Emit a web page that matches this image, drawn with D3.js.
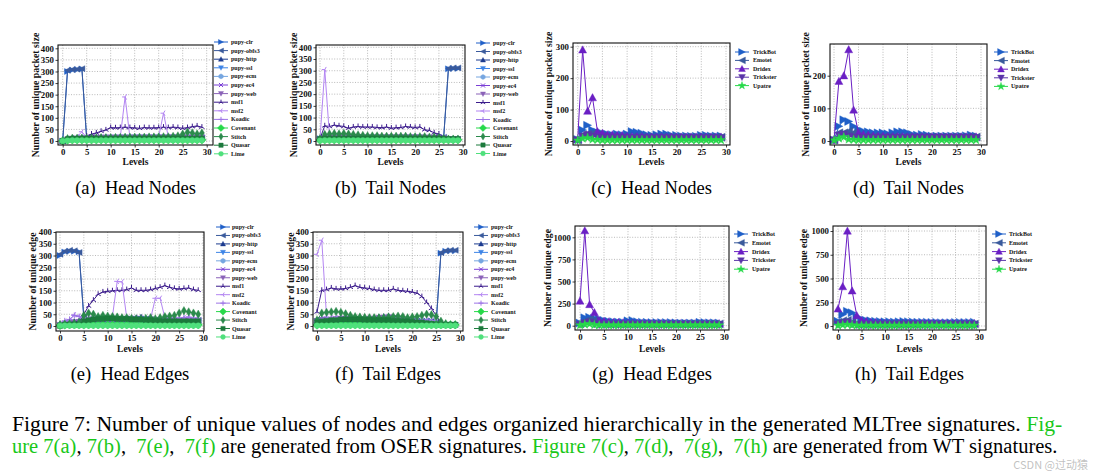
<!DOCTYPE html>
<html><head><meta charset="utf-8">
<script src="https://cdn.jsdelivr.net/npm/d3@7"></script>
<style>body{margin:0;background:#fff}svg{display:block}</style>
</head><body>
<svg id="c" width="1094" height="471"></svg>
<script>
const levels = [0,1,2,3,4,5,6,7,8,9,10,11,12,13,14,15,16,17,18,19,20,21,22,23,24,25,26,27,28,29];
const xTicks = [0,5,10,15,20,25,30];
const yTicksOser = [0,50,100,150,200,250,300,350,400];
const yTicksC = [0,100,200,300];
const yTicksD = [0,100,200];
const yTicksEdgeWT = [0,250,500,750,1000];

const oserNames = ['pupy-clr','pupy-obfs3','pupy-http','pupy-ssl','pupy-ecm','pupy-ec4','pupy-web','msf1','msf2','Koadic','Covenant','Stitch','Quasar','Lime'];
const oserColors = ['#1f5fc8','#3a5a9c','#1b3b8f','#3d84e6','#76a6e0','#7b3fd6','#8a62b8','#3b1b8c','#b385f2','#9c74e6','#27d94a','#2b8a4c','#1c7a3c','#4fe07c'];
const oserMarkers = ['>','<','^','v','h','x','v','2','4','+','D','d','s','o'];
const wtNames = ['TrickBot','Emotet','Dridex','Trickster','Upatre'];
const wtColors = ['#1f5fc8','#3a5a9c','#6a1fc4','#5a35a8','#27d94a'];
const wtMarkers = ['>','<','^','v','*'];

// (a) Head Nodes (OSER)
const hnClr     = [0,300,306,308,311,8,9,9,10,10,11,11,11,12,12,12,12,12,12,12,12,12,12,12,12,12,12,12,12,12];
const hnObfs3   = [0,305,308,310,312,10,10,11,12,12,12,13,13,13,13,13,13,13,13,13,13,13,13,13,13,13,13,13,13,13];
const hnHttp    = [0,6,8,10,12,14,15,15,16,16,17,17,17,17,17,17,17,17,17,17,17,17,17,17,17,18,18,18,18,18];
const hnSsl     = [0,5,7,9,10,12,13,13,14,14,14,14,15,15,15,15,15,15,15,15,15,15,15,15,15,15,15,15,15,15];
const hnEcm     = [0,4,6,8,9,10,11,11,12,12,12,12,12,12,12,12,12,12,12,12,12,12,12,12,12,12,12,12,12,12];
const hnEc4     = [0,5,8,10,11,12,13,14,14,15,15,15,15,15,15,16,16,16,16,16,16,16,16,16,16,16,16,16,16,16];
const hnWeb     = [0,6,9,11,12,13,14,15,15,16,16,16,16,16,16,16,16,16,16,16,16,16,16,16,16,16,16,16,16,16];
const hnMsf1    = [0,8,10,12,15,22,30,35,42,48,58,57,58,60,58,57,55,58,57,57,58,60,58,60,58,55,58,62,65,60];
const hnMsf2    = [0,12,15,18,40,15,16,16,16,16,17,17,18,190,16,16,16,16,16,16,18,120,18,18,18,18,18,18,18,18];
const hnKoadic  = [0,5,8,10,12,10,10,10,10,10,10,10,10,10,10,10,10,10,10,10,10,10,10,10,10,10,10,10,10,10];
const hnCovenant= [0,4,5,5,5,5,5,5,5,5,5,5,5,5,5,5,5,5,5,5,5,5,5,5,5,5,5,5,5,5];
const hnStitch  = [0,10,12,12,12,12,13,13,14,14,14,15,15,16,16,16,16,16,17,17,18,18,18,20,22,30,38,35,30,35];
const hnQuasar  = [0,8,10,10,10,10,10,10,10,10,10,10,10,10,10,10,10,10,10,10,10,10,10,10,10,10,10,10,10,10];
const hnLime    = [0,2,3,3,3,3,3,3,3,3,3,3,3,3,3,3,3,3,3,3,3,3,3,3,3,3,3,3,3,3];

// (b) Tail Nodes (OSER)
const tnClr     = [10,12,12,12,12,12,12,12,12,12,12,12,12,12,12,12,12,12,12,12,12,12,12,12,12,12,15,308,310,310];
const tnObfs3   = [10,12,13,13,13,13,13,13,13,13,13,13,13,13,13,13,13,13,13,13,13,13,13,13,13,14,16,310,312,312];
const tnHttp    = [8,14,15,16,16,16,16,16,16,16,16,16,16,16,16,16,16,16,16,16,16,16,15,15,14,14,12,10,10,10];
const tnSsl     = [6,12,13,14,14,14,14,14,14,14,14,14,14,14,14,14,14,14,14,14,14,14,13,13,12,12,10,8,8,8];
const tnEcm     = [5,10,11,12,12,12,12,12,12,12,12,12,12,12,12,12,12,12,12,12,12,12,11,11,10,10,9,7,7,7];
const tnEc4     = [6,13,14,15,15,15,15,15,15,15,15,15,15,15,15,15,15,15,15,15,15,15,14,14,13,13,11,9,9,9];
const tnWeb     = [7,14,15,16,16,16,16,16,16,16,16,16,16,16,16,16,16,16,16,16,16,16,15,15,14,14,12,9,9,9];
const tnMsf1    = [10,65,62,68,65,62,55,60,62,60,60,60,58,57,60,55,57,58,62,60,58,60,48,45,35,30,12,8,8,8];
const tnMsf2    = [10,305,20,18,18,16,16,16,16,16,16,16,16,16,16,16,16,16,16,16,16,16,15,15,14,14,12,10,10,10];
const tnKoadic  = [8,12,12,12,11,11,11,11,11,11,11,11,11,11,11,11,11,11,11,11,11,11,10,10,10,10,9,8,8,8];
const tnCovenant= [4,5,5,5,5,5,5,5,5,5,5,5,5,5,5,5,5,5,5,5,5,5,5,5,5,5,5,5,5,5];
const tnStitch  = [10,28,30,32,30,32,30,28,26,24,22,22,22,20,20,20,20,20,20,18,18,18,18,16,16,14,10,8,8,8];
const tnQuasar  = [8,10,10,10,10,10,10,10,10,10,10,10,10,10,10,10,10,10,10,10,10,10,10,10,10,10,9,8,8,8];
const tnLime    = [2,3,3,3,3,3,3,3,3,3,3,3,3,3,3,3,3,3,3,3,3,3,3,3,3,3,3,3,3,3];

// (c) Head Nodes (WT)
const whnTrickBot = [5,35,50,35,28,25,22,20,22,20,22,30,28,25,20,18,20,22,22,18,18,16,16,15,15,18,18,16,16,16];
const whnEmotet   = [3,20,22,25,20,15,14,14,13,13,13,13,13,12,12,12,12,12,12,12,12,12,12,12,12,12,12,12,12,12];
const whnDridex   = [5,290,95,138,30,25,20,20,18,18,15,14,14,14,13,13,13,13,13,13,13,13,13,13,13,13,13,13,13,13];
const whnTrickster= [3,15,20,15,12,10,10,10,10,10,9,9,9,9,9,9,9,9,9,9,9,9,9,9,9,9,9,9,9,9];
const whnUpatre   = [2,8,10,5,4,3,3,3,3,3,3,3,3,3,3,3,3,3,3,3,3,3,3,3,3,3,3,3,3,3];

// (d) Tail Nodes (WT)
const wtnTrickBot = [3,45,65,60,45,35,30,28,25,25,25,22,25,28,28,25,20,18,20,18,15,15,15,15,15,15,15,16,18,15];
const wtnEmotet   = [3,25,25,30,25,15,14,13,13,12,12,12,12,12,12,12,12,12,12,12,12,12,12,12,12,12,12,12,12,12];
const wtnDridex   = [3,183,200,280,95,25,20,18,16,15,15,14,14,14,14,13,13,13,13,13,13,13,13,13,13,13,13,13,13,13];
const wtnTrickster= [3,18,20,15,12,10,10,10,9,9,9,9,9,9,9,9,9,9,9,9,9,9,9,9,9,9,9,9,9,9];
const wtnUpatre   = [2,8,12,5,4,3,3,3,3,3,3,3,3,3,3,3,3,3,3,3,3,3,3,3,3,3,3,3,3,3];

// (e) Head Edges (OSER)
const heClr     = [300,315,318,318,316,30,25,26,26,27,27,27,27,27,27,27,27,27,27,26,24,23,23,23,23,23,23,23,23,23];
const heObfs3   = [305,318,322,320,313,40,28,28,29,30,30,30,30,30,30,30,30,30,30,28,26,25,25,25,25,25,25,25,25,25];
const heHttp    = [5,10,15,18,20,25,28,30,30,32,32,30,30,28,28,30,35,38,30,28,25,22,22,22,22,25,28,25,25,22];
const heSsl     = [4,8,12,15,16,20,22,24,25,26,26,26,25,25,25,26,28,30,26,24,22,20,20,20,20,20,22,22,20,20];
const heEcm     = [3,6,10,12,14,18,20,22,22,22,22,22,22,22,22,22,22,22,22,22,20,18,18,18,18,18,18,18,18,18];
const heEc4     = [4,8,12,14,15,20,22,25,26,26,26,26,26,26,26,26,26,26,25,24,22,20,20,20,20,22,25,24,22,20];
const heWeb     = [5,10,14,16,18,22,25,27,28,28,28,28,28,28,28,28,28,28,26,25,24,22,22,22,22,22,24,24,22,22];
const heMsf1    = [10,12,15,18,20,50,85,110,135,145,148,150,152,152,155,162,152,152,152,155,160,165,172,165,160,158,160,162,155,152];
const heMsf2    = [5,20,25,48,42,35,35,35,35,35,38,40,190,188,35,35,35,35,30,30,118,118,35,35,35,35,35,38,35,35];
const heKoadic  = [5,22,28,45,40,30,30,30,30,30,30,32,35,35,30,30,28,28,28,28,30,30,28,28,28,30,35,38,32,30];
const heCovenant= [2,4,5,5,5,5,5,5,5,5,5,5,5,5,5,5,5,5,5,5,5,5,5,5,5,5,5,5,5,5];
const heStitch  = [5,8,10,12,15,45,55,50,40,45,42,40,38,35,35,32,30,30,32,35,30,35,40,42,45,55,65,60,55,50];
const heQuasar  = [0,5,5,5,5,20,25,28,30,30,32,32,30,30,30,28,28,28,25,25,22,20,20,20,20,20,20,20,20,20];
const heLime    = [1,2,2,2,2,2,2,2,2,2,2,2,2,2,2,2,2,2,2,2,2,2,2,2,2,2,2,2,2,2];

// (f) Tail Edges (OSER)
const teClr     = [20,25,25,26,26,26,26,26,26,26,26,26,26,26,26,26,26,26,26,25,22,20,20,20,20,14,310,318,320,320];
const teObfs3   = [20,22,22,25,25,25,25,25,25,25,25,25,25,25,25,25,25,25,25,25,22,20,20,20,20,15,312,320,322,322];
const teHttp    = [25,30,28,30,32,35,35,35,32,30,30,35,35,38,40,42,38,35,30,28,25,15,10,10,10,8,5,5,5,5];
const teSsl     = [20,25,25,26,28,30,30,30,28,28,28,30,30,32,34,36,34,32,28,26,22,14,9,9,9,7,5,5,5,5];
const teEcm     = [15,20,20,22,22,24,24,24,24,24,24,24,24,26,28,30,28,26,24,22,20,12,8,8,8,6,4,4,4,4];
const teEc4     = [18,22,22,24,26,28,28,28,26,26,26,28,28,30,32,34,32,30,26,24,20,13,9,9,9,7,5,5,5,5];
const teWeb     = [22,26,26,28,30,32,32,32,30,28,28,32,32,35,36,38,35,32,28,26,22,14,10,10,10,8,5,5,5,5];
const teMsf1    = [60,152,155,162,158,158,160,165,172,165,162,160,155,152,152,152,158,152,150,148,145,140,125,100,75,45,8,5,5,5];
const teMsf2    = [305,365,40,35,35,32,30,30,30,30,30,28,28,28,28,28,28,28,28,25,25,25,25,25,25,20,10,5,5,5];
const teKoadic  = [20,30,30,32,30,30,30,30,28,28,28,28,28,28,28,28,28,28,26,25,25,22,20,20,18,15,8,5,5,5];
const teCovenant= [4,5,5,5,5,5,5,5,5,5,5,5,5,5,5,5,5,5,5,5,5,5,5,5,5,5,5,5,5,5];
const teStitch  = [25,55,58,60,62,58,52,45,40,38,36,35,35,35,35,38,40,42,40,35,38,40,45,50,48,40,20,10,5,5];
const teQuasar  = [15,20,22,25,25,28,28,28,28,28,26,26,25,25,25,25,22,22,20,20,18,15,15,12,10,8,5,5,5,5];
const teLime    = [2,2,2,2,2,2,2,2,2,2,2,2,2,2,2,2,2,2,2,2,2,2,2,2,2,2,2,2,2,2];

// (g) Head Edges (WT)
const wheTrickBot = [30,90,95,85,75,60,50,45,42,40,55,60,45,40,38,35,35,35,35,35,32,30,30,30,30,38,35,32,32,30];
const wheEmotet   = [20,50,70,60,30,25,22,22,20,20,20,20,20,20,20,20,20,20,20,20,20,20,20,20,20,20,20,20,20,20];
const wheDridex   = [280,1075,240,150,60,50,45,40,38,35,30,28,28,27,27,26,26,26,25,25,25,25,25,25,25,25,25,25,25,25];
const wheTrickster= [15,30,40,20,12,10,10,10,10,10,10,10,10,10,10,10,10,10,10,10,10,10,10,10,10,10,10,10,10,10];
const wheUpatre   = [5,15,20,8,6,5,5,5,5,5,5,5,5,5,5,5,5,5,5,5,5,5,5,5,5,5,5,5,5,5];

// (h) Tail Edges (WT)
const wteTrickBot = [50,120,155,140,100,70,60,55,50,48,45,45,42,45,48,45,42,40,40,40,38,38,35,35,35,38,38,38,38,40];
const wteEmotet   = [40,55,60,40,25,22,20,20,20,20,20,20,20,20,20,20,20,20,20,20,20,20,20,20,20,20,20,20,20,20];
const wteDridex   = [180,415,1000,370,110,60,50,40,38,35,32,30,30,30,30,28,28,28,28,28,28,28,28,28,28,28,28,28,28,28];
const wteTrickster= [20,30,40,20,12,10,10,10,10,10,10,10,10,10,10,10,10,10,10,10,10,10,10,10,10,10,10,10,10,10];
const wteUpatre   = [5,12,15,8,6,5,5,5,5,5,5,5,5,5,5,5,5,5,5,5,5,5,5,5,5,5,5,5,5,5];

const FONT = '"Liberation Serif","Times New Roman",serif';
const svg = d3.select('#c');

const oserSet = {names: oserNames, colors: oserColors, markers: oserMarkers};
const wtSet = {names: wtNames, colors: wtColors, markers: wtMarkers};

const panels = [
  {frame:[58,213,45,145], xr:[62.7,206.7], yv:[0,400], yp:[141,48.3], yticks:yTicksOser, ylabel:'Number of unique packet size', ylx:35, set:oserSet,
   data:[hnClr,hnObfs3,hnHttp,hnSsl,hnEcm,hnEc4,hnWeb,hnMsf1,hnMsf2,hnKoadic,hnCovenant,hnStitch,hnQuasar,hnLime],
   leg:{lx:214,tx:231,y0:42,dy:8.6}, cap:'(a)  Head Nodes', capY:194, xlY:161.5},
  {frame:[316,465,45,145], xr:[320,462.7], yv:[0,400], yp:[141,47.3], yticks:yTicksOser, ylabel:'Number of unique packet size', ylx:293, set:oserSet,
   data:[tnClr,tnObfs3,tnHttp,tnSsl,tnEcm,tnEc4,tnWeb,tnMsf1,tnMsf2,tnKoadic,tnCovenant,tnStitch,tnQuasar,tnLime],
   leg:{lx:476,tx:493,y0:43,dy:8.5}, cap:'(b)  Tail Nodes', capY:194, xlY:161.5},
  {frame:[573,730,43,145], xr:[577.7,726], yv:[0,300], yp:[141,46.7], yticks:yTicksC, ylabel:'Number of unique packet size', ylx:548, set:wtSet,
   data:[whnTrickBot,whnEmotet,whnDridex,whnTrickster,whnUpatre],
   leg:{lx:735,tx:753,y0:52,dy:8.4}, cap:'(c)  Head Nodes', capY:194, xlY:161.5},
  {frame:[830,987,44,145], xr:[834,981], yv:[0,200], yp:[141,75.7], yticks:yTicksD, ylabel:'Number of unique packet size', ylx:805, set:wtSet,
   data:[wtnTrickBot,wtnEmotet,wtnDridex,wtnTrickster,wtnUpatre],
   leg:{lx:994,tx:1011,y0:52,dy:8.6}, cap:'(d)  Tail Nodes', capY:194, xlY:161.5},
  {frame:[56,204,232,331], xr:[60,203], yv:[0,400], yp:[326,232], yticks:yTicksOser, ylabel:'Number of unique edge', ylx:32, set:oserSet,
   data:[heClr,heObfs3,heHttp,heSsl,heEcm,heEc4,heWeb,heMsf1,heMsf2,heKoadic,heCovenant,heStitch,heQuasar,heLime],
   leg:{lx:216,tx:232,y0:227,dy:8.46}, cap:'(e)  Head Edges', capY:380, xlY:348.5},
  {frame:[313,463,232,331], xr:[317,460], yv:[0,400], yp:[326,232], yticks:yTicksOser, ylabel:'Number of unique edge', ylx:290, set:oserSet,
   data:[teClr,teObfs3,teHttp,teSsl,teEcm,teEc4,teWeb,teMsf1,teMsf2,teKoadic,teCovenant,teStitch,teQuasar,teLime],
   leg:{lx:474,tx:491,y0:227,dy:8.46}, cap:'(f)  Tail Edges', capY:380, xlY:348.5},
  {frame:[575,729,226,330], xr:[580,724], yv:[0,1000], yp:[325.7,237.3], yticks:yTicksEdgeWT, ylabel:'Number of unique edge', ylx:547, set:wtSet,
   data:[wheTrickBot,wheEmotet,wheDridex,wheTrickster,wheUpatre],
   leg:{lx:734,tx:752,y0:234,dy:8.8}, cap:'(g)  Head Edges', capY:380, xlY:348.5},
  {frame:[833,986,226,330], xr:[838,979], yv:[0,1000], yp:[326,231], yticks:yTicksEdgeWT, ylabel:'Number of unique edge', ylx:803, set:wtSet,
   data:[wteTrickBot,wteEmotet,wteDridex,wteTrickster,wteUpatre],
   leg:{lx:992,tx:1009,y0:234,dy:8.8}, cap:'(h)  Tail Edges', capY:380, xlY:348.5}
];

function markerPath(t, r) {
  const h = r*0.87;
  switch (t) {
    case '>': return `M${r},0L${-r},${-r}L${-r},${r}Z`;
    case '<': return `M${-r},0L${r},${-r}L${r},${r}Z`;
    case '^': return `M0,${-r}L${r},${r*0.8}L${-r},${r*0.8}Z`;
    case 'v': return `M0,${r}L${r},${-r*0.8}L${-r},${-r*0.8}Z`;
    case 'h': return `M0,${-r}L${h},${-r/2}L${h},${r/2}L0,${r}L${-h},${r/2}L${-h},${-r/2}Z`;
    case 'x': return `M${-r*0.8},${-r*0.8}L${r*0.8},${r*0.8}M${-r*0.8},${r*0.8}L${r*0.8},${-r*0.8}`;
    case '2': return `M0,0L0,${-r}M0,0L${h},${r/2}M0,0L${-h},${r/2}`;
    case '4': return `M0,0L${-r},0M0,0L${r/2},${-h}M0,0L${r/2},${h}`;
    case '+': return `M${-r},0L${r},0M0,${-r}L0,${r}`;
    case 'D': return `M0,${-r}L${r},0L0,${r}L${-r},0Z`;
    case 'd': return `M0,${-r}L${r*0.6},0L0,${r}L${-r*0.6},0Z`;
    case 's': return `M${-r*0.8},${-r*0.8}H${r*0.8}V${r*0.8}H${-r*0.8}Z`;
    case 'o': return d3.symbol(d3.symbolCircle, Math.PI*r*r*0.7)();
    case '*': return d3.symbol(d3.symbolStar, r*r*1.6)();
  }
  return '';
}
const strokeOnly = new Set(['x','2','4','+']);
function markerSize(t, big) {
  if (t === 'D') return 4.2;
  if (t === 'd') return 4.2;
  if (t === 's') return 3.2;
  if (t === 'o') return 3.4;
  if (t === '*') return 4.0;
  return big ? 4.0 : 3.0;
}

panels.forEach((p, pi) => {
  const [fx0, fx1, fy0, fy1] = p.frame;
  const x = d3.scaleLinear().domain([0, 30]).range(p.xr);
  const y = d3.scaleLinear().domain(p.yv).range(p.yp);
  const g = svg.append('g');
  const clipId = 'clip' + pi;
  svg.append('clipPath').attr('id', clipId).append('rect')
    .attr('x', fx0).attr('y', fy0).attr('width', fx1 - fx0).attr('height', fy1 - fy0);

  // grid
  const grid = g.append('g').attr('stroke', '#a8a8a8').attr('stroke-width', 0.8).attr('stroke-dasharray', '1,1.6');
  xTicks.forEach(t => { const px = x(t); if (px > fx0 && px < fx1) grid.append('line').attr('x1', px).attr('x2', px).attr('y1', fy0).attr('y2', fy1); });
  p.yticks.forEach(t => { const py = y(t); if (py > fy0 && py < fy1) grid.append('line').attr('x1', fx0).attr('x2', fx1).attr('y1', py).attr('y2', py); });

  // axes via d3 axes
  const xAxis = d3.axisBottom(x).tickValues(xTicks).tickSize(2.5).tickPadding(0.8).tickFormat(d3.format('d'));
  const yAxis = d3.axisLeft(y).tickValues(p.yticks).tickSize(2.5).tickPadding(1.5).tickFormat(d3.format('d'));
  const ax = g.append('g').attr('transform', `translate(0,${fy1})`).call(xAxis);
  const ay = g.append('g').attr('transform', `translate(${fx0},0)`).call(yAxis);
  [ax, ay].forEach(a => {
    a.select('.domain').remove();
    a.selectAll('text').attr('font-family', FONT).attr('font-weight', 'bold').attr('font-size', 8.8).attr('fill', '#111');
    a.selectAll('line').attr('stroke', '#111').attr('stroke-width', 0.8);
  });

  // series
  const big = p.set === wtSet;
  const plot = g.append('g').attr('clip-path', `url(#${clipId})`);
  const line = d3.line().x((d, i) => x(levels[i])).y(d => y(d));
  p.data.forEach((arr, si) => {
    const col = p.set.colors[si], mk = p.set.markers[si];
    plot.append('path').attr('d', line(arr)).attr('fill', 'none').attr('stroke', col).attr('stroke-width', 1);
    const r = markerSize(mk, big);
    const mp = markerPath(mk, r);
    plot.selectAll(null).data(arr).enter().append('path')
      .attr('transform', (d, i) => `translate(${x(levels[i])},${y(d)})`)
      .attr('d', mp)
      .attr('fill', strokeOnly.has(mk) ? 'none' : col)
      .attr('stroke', col).attr('stroke-width', strokeOnly.has(mk) ? 1 : 0.4);
  });

  // frame
  g.append('rect').attr('x', fx0).attr('y', fy0).attr('width', fx1 - fx0).attr('height', fy1 - fy0)
    .attr('fill', 'none').attr('stroke', '#111').attr('stroke-width', 1.1);

  // labels
  g.append('text').attr('transform', `translate(${p.ylx},${(fy0 + fy1) / 2}) rotate(-90)`)
    .attr('text-anchor', 'middle').attr('dominant-baseline', 'central')
    .attr('font-family', FONT).attr('font-weight', 'bold').attr('font-size', 9.8).attr('fill', '#111').text(p.ylabel);
  g.append('text').attr('x', (fx0 + fx1) / 2).attr('y', p.xlY).attr('text-anchor', 'middle').attr('dominant-baseline', 'central')
    .attr('font-family', FONT).attr('font-weight', 'bold').attr('font-size', 9.5).attr('fill', '#111').text('Levels');

  // legend
  const lg = g.append('g');
  p.set.names.forEach((nm, si) => {
    const yy = p.leg.y0 + si * p.leg.dy;
    const col = p.set.colors[si], mk = p.set.markers[si];
    lg.append('line').attr('x1', p.leg.lx).attr('x2', p.leg.lx + 14).attr('y1', yy).attr('y2', yy).attr('stroke', col).attr('stroke-width', 1);
    const r = markerSize(mk, big) * 0.85;
    lg.append('path').attr('transform', `translate(${p.leg.lx + 7},${yy})`).attr('d', markerPath(mk, r))
      .attr('fill', strokeOnly.has(mk) ? 'none' : col).attr('stroke', col).attr('stroke-width', strokeOnly.has(mk) ? 1 : 0.4);
    lg.append('text').attr('x', p.leg.tx).attr('y', yy).attr('dominant-baseline', 'central')
      .attr('font-family', FONT).attr('font-weight', 'bold').attr('font-size', 6).attr('fill', '#111').text(nm);
  });

  // sub caption
  g.append('text').attr('x', (fx0 + fx1) / 2).attr('y', p.capY).attr('text-anchor', 'middle')
    .attr('font-family', FONT).attr('font-size', 18.5).attr('fill', '#000').style('white-space', 'pre').text(p.cap);
});

// figure caption
const GREEN = '#19c819';
const capLine1 = [['Figure 7: Number of unique values of nodes and edges organized hierarchically in the generated MLTree signatures. ', '#000'], ['Fig-', GREEN]];
const capLine2 = [['ure 7(a)', GREEN], [', ', '#000'], ['7(b)', GREEN], [',  ', '#000'], ['7(e)', GREEN], [',  ', '#000'], ['7(f)', GREEN],
  [' are generated from OSER signatures. ', '#000'], ['Figure 7(c)', GREEN], [', ', '#000'], ['7(d)', GREEN], [',  ', '#000'], ['7(g)', GREEN], [',  ', '#000'], ['7(h)', GREEN],
  [' are generated from WT signatures.', '#000']];
function captionLine(parts, yb, targetW) {
  const t = svg.append('text').attr('x', 12).attr('y', yb).attr('font-family', FONT).attr('font-size', 20).style('white-space', 'pre');
  parts.forEach(([s, c]) => t.append('tspan').attr('fill', c).text(s));
  const w = t.node().getComputedTextLength();
  t.attr('font-size', 20 * targetW / w);
}
captionLine(capLine1, 431, 1051);
captionLine(capLine2, 453, 1046);

svg.append('text').attr('x', 1088).attr('y', 469).attr('text-anchor', 'end').attr('font-family', '"Noto Sans CJK SC",sans-serif')
  .attr('font-size', 11).attr('fill', 'rgba(140,140,140,0.55)').text('CSDN @过动猿');
</script>
</body></html>
